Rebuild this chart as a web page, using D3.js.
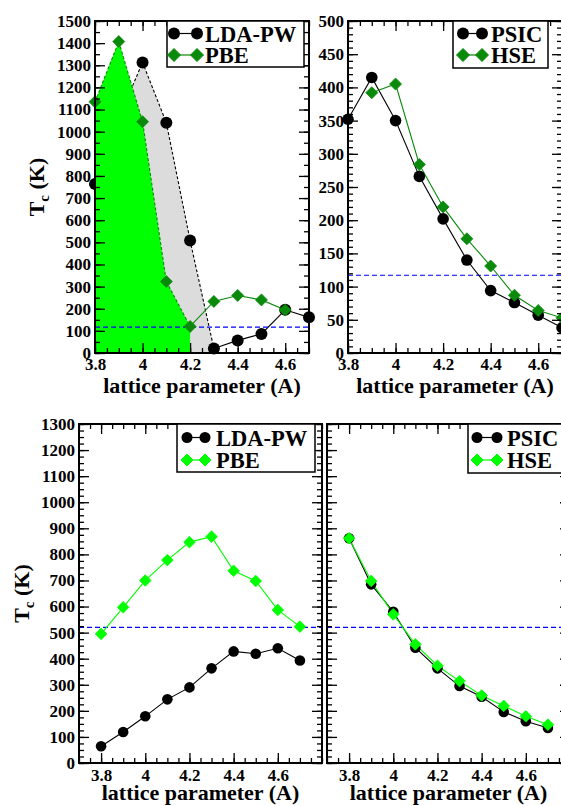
<!DOCTYPE html>
<html>
<head>
<meta charset="utf-8">
<script src="https://cdn.jsdelivr.net/npm/d3@7"></script>
<style>
  html, body { margin: 0; padding: 0; background: #fff; }
  svg { display: block; }
  text { font-family: "Liberation Serif", "Times New Roman", serif; font-weight: bold; fill: #000; }
</style>
</head>
<body>
<svg id="chart" width="561" height="806"></svg>
<script>
// Lattice parameters (Angstrom)
const lattice = [3.8, 3.9, 4.0, 4.1, 4.2, 4.3, 4.4, 4.5, 4.6, 4.7];

// Upper left: LDA-PW and PBE Curie temperatures (K)
const ldaTop = [764, 1060, 1313, 1040, 508, 20, 57, 86, 195, 161];
const pbeTop = [1135, 1407, 1045, 323, 120, 233, 260, 240, 194];
// Upper right: PSIC and HSE
const psicTop = [352, 415, 350, 266, 202, 140, 94, 76, 57, 38];
const hseLattice = [3.9, 4.0, 4.1, 4.2, 4.3, 4.4, 4.5, 4.6, 4.7];
const hseTop = [392, 405, 284, 220, 172, 131, 87, 64, 53];
// Lower left: LDA-PW and PBE
const ldaBottom = [64, 119, 179, 244, 290, 363, 428, 419, 440, 393];
const pbeBottom = [495, 597, 700, 778, 847, 868, 737, 698, 587, 523];
// Lower right: PSIC and HSE
const psicBottom = [862, 685, 580, 442, 363, 295, 254, 196, 160, 134];
const hseBottom = [862, 698, 570, 455, 373, 314, 259, 219, 179, 147];

// Reference temperature lines (K)
const refTop = 117;
const refBottom = 520;

// Tick labels
const xTickLabels = [3.8, 4.0, 4.2, 4.4, 4.6];
const yTicksTopLeft = d3.range(0, 1501, 100);
const yTicksTopRight = d3.range(0, 501, 50);
const yTicksBottom = d3.range(0, 1301, 100);

const DARK_GREEN = "#0a8a0a";
const BRIGHT_GREEN = "#00ff00";
const svg = d3.select("#chart");

const fmtX = d => (Math.abs(d - 4) < 1e-9 ? "4" : d3.format(".1f")(d));

function stepRange(a, b, s) {
  const n = Math.round((b - a) / s);
  return d3.range(n + 1).map(i => +(a + i * s).toFixed(4));
}

function diamondPath(r) {
  return `M0,${-r}L${r},0L0,${r}L${-r},0Z`;
}

let clipId = 0;
function makePanel(o) {
  const x = d3.scaleLinear().domain(o.xDomain).range([o.left, o.right]);
  const y = d3.scaleLinear().domain(o.yDomain).range([o.bottom, o.top]);
  const g = svg.append("g");
  const id = "clip" + (clipId++);
  g.append("clipPath").attr("id", id).append("rect")
    .attr("x", o.left).attr("y", o.top)
    .attr("width", o.right - o.left).attr("height", o.bottom - o.top);
  const plot = g.append("g");
  const clipped = plot.append("g").attr("clip-path", `url(#${id})`);

  // axes: minor + major ticks on all four sides, pointing inward
  const axes = g.append("g");
  const xMinor = stepRange(o.xDomain[0], o.xDomain[1], 0.05);
  const yMinor = stepRange(o.yDomain[0], o.yDomain[1], o.yMinor);
  const addAxis = (gen, tr) => {
    const a = axes.append("g").attr("transform", tr).call(gen);
    a.select(".domain").remove();
    a.selectAll("line").attr("stroke", "#000").attr("stroke-width", 1.3);
    return a;
  };
  addAxis(d3.axisBottom(x).tickValues(xMinor).tickSize(-5).tickFormat(""), `translate(0,${o.bottom})`);
  addAxis(d3.axisTop(x).tickValues(xMinor).tickSize(-5).tickFormat(""), `translate(0,${o.top})`);
  addAxis(d3.axisTop(x).tickValues(xTickLabels).tickSize(-10).tickFormat(""), `translate(0,${o.top})`);
  const xb = addAxis(d3.axisBottom(x).tickValues(xTickLabels).tickSize(-10).tickPadding(o.xPad).tickFormat(fmtX), `translate(0,${o.bottom})`);
  xb.selectAll("text").attr("font-size", 17).attr("font-family", "Liberation Serif").attr("font-weight", "bold");

  addAxis(d3.axisLeft(y).tickValues(yMinor).tickSize(-5).tickFormat(""), `translate(${o.left},0)`);
  addAxis(d3.axisRight(y).tickValues(yMinor).tickSize(-5).tickFormat(""), `translate(${o.right},0)`);
  addAxis(d3.axisRight(y).tickValues(o.yTicks).tickSize(-10).tickFormat(""), `translate(${o.right},0)`);
  const yl = addAxis(d3.axisLeft(y).tickValues(o.yTicks).tickSize(-10).tickPadding(4)
      .tickFormat(o.yLabels ? d3.format("d") : ""), `translate(${o.left},0)`);
  yl.selectAll("text").attr("font-size", 17).attr("font-family", "Liberation Serif").attr("font-weight", "bold");

  g.append("rect").attr("x", o.left).attr("y", o.top)
    .attr("width", o.right - o.left).attr("height", o.bottom - o.top)
    .attr("fill", "none").attr("stroke", "#000").attr("stroke-width", 2);

  // x axis title
  g.append("text").attr("x", (o.left + o.right) / 2).attr("y", o.xTitleY)
    .attr("text-anchor", "middle").attr("font-size", 22).text("lattice parameter (A)");
  // y axis title
  if (o.yTitleX !== undefined) {
    const t = g.append("text")
      .attr("transform", `translate(${o.yTitleX},${(o.top + o.bottom) / 2}) rotate(-90)`)
      .attr("text-anchor", "middle").attr("font-size", 22);
    t.append("tspan").text("T");
    t.append("tspan").attr("font-size", 15).attr("dy", 5).text("c");
    t.append("tspan").attr("dy", -5).text(" (K)");
  }
  return { x, y, g, plot, clipped, axes };
}

function drawLine(layer, xs, ys, sc, color, dash, width) {
  const line = d3.line().x((d, i) => sc.x(xs[i])).y(d => sc.y(d));
  layer.append("path").datum(ys).attr("d", line)
    .attr("fill", "none").attr("stroke", color).attr("stroke-width", width || 1.1)
    .attr("stroke-dasharray", dash || null);
}
function drawCircles(layer, xs, ys, sc, r) {
  layer.selectAll(null).data(ys).enter().append("circle")
    .attr("cx", (d, i) => sc.x(xs[i])).attr("cy", d => sc.y(d))
    .attr("r", r).attr("fill", "#000");
}
function drawDiamonds(layer, xs, ys, sc, r, color) {
  layer.selectAll(null).data(ys).enter().append("path")
    .attr("d", diamondPath(r))
    .attr("transform", (d, i) => `translate(${sc.x(xs[i])},${sc.y(d)})`)
    .attr("fill", color).attr("stroke", color).attr("stroke-width", 0.8);
}
function drawRef(layer, sc, v) {
  layer.append("line").attr("x1", sc.x.range()[0]).attr("x2", sc.x.range()[1])
    .attr("y1", sc.y(v)).attr("y2", sc.y(v))
    .attr("stroke", "#0000ff").attr("stroke-width", 1.1).attr("stroke-dasharray", "5,3");
}
function drawLegend(o) {
  const g = svg.append("g");
  g.append("rect").attr("x", o.x0).attr("y", o.y0).attr("width", o.x1 - o.x0).attr("height", o.y1 - o.y0)
    .attr("fill", "#fff").attr("stroke", "#000").attr("stroke-width", 1.5);
  o.items.forEach((it, k) => {
    const yy = o.rows[k];
    g.append("line").attr("x1", o.s0).attr("x2", o.s1).attr("y1", yy).attr("y2", yy)
      .attr("stroke", it.color).attr("stroke-width", 1.2);
    [o.s0, o.s1].forEach(sx => {
      if (it.shape === "circle") {
        g.append("circle").attr("cx", sx).attr("cy", yy).attr("r", o.r).attr("fill", "#000");
      } else {
        g.append("path").attr("d", diamondPath(o.r + 0.5)).attr("transform", `translate(${sx},${yy})`)
          .attr("fill", it.color).attr("stroke", it.color);
      }
    });
    g.append("text").attr("x", o.tx).attr("y", yy + 8).attr("font-size", 22.5).text(it.label);
  });
}

// ---------- upper left ----------
const p1 = makePanel({
  left: 95, right: 309, top: 21, bottom: 353,
  xDomain: [3.8, 4.7], yDomain: [0, 1500], yTicks: yTicksTopLeft, yMinor: 50, yLabels: true,
  xPad: 5, xTitleY: 393, yTitleX: 44
});
{
  const sc = p1;
  // shaded areas below the LDA-PW and PBE curves in the ferromagnetic range
  const ldaIdx = d3.range(0, 6);
  const area = d3.area().x(i => sc.x(lattice[i])).y0(sc.y(0));
  p1.clipped.append("path").datum(ldaIdx).attr("d", area.y1(i => sc.y(ldaTop[i])))
    .attr("fill", "#dcdcdc");
  drawLine(p1.clipped, ldaIdx.map(i => lattice[i]), ldaIdx.map(i => ldaTop[i]), sc, "#000", "3,2");
  drawLine(p1.clipped, lattice.slice(5), ldaTop.slice(5), sc, "#000");
  drawCircles(p1.plot, lattice, ldaTop, sc, 6);
  const pbeIdx = d3.range(0, 5);
  p1.plot.append("path").datum(pbeIdx)
    .attr("clip-path", "url(#clip0)")
    .attr("d", d3.area().x(i => sc.x(lattice[i])).y0(sc.y(0)).y1(i => sc.y(pbeTop[i])))
    .attr("fill", BRIGHT_GREEN);
  drawLine(p1.plot.append("g").attr("clip-path", "url(#clip0)"),
    pbeIdx.map(i => lattice[i]), pbeIdx.map(i => pbeTop[i]), sc, DARK_GREEN, "3,2");
  drawRef(p1.plot, sc, refTop);
  drawLine(p1.plot, lattice.slice(4, 9), pbeTop.slice(4), sc, DARK_GREEN);
  drawDiamonds(p1.plot, lattice.slice(0, 9), pbeTop, sc, 6, DARK_GREEN);
}

// ---------- upper right ----------
const p2 = makePanel({
  left: 348, right: 562, top: 21, bottom: 353,
  xDomain: [3.8, 4.7], yDomain: [0, 500], yTicks: yTicksTopRight, yMinor: 10, yLabels: true,
  xPad: 5, xTitleY: 393
});
drawRef(p2.clipped, p2, refTop);
drawLine(p2.plot, lattice, psicTop, p2, "#000");
drawLine(p2.plot, hseLattice, hseTop, p2, DARK_GREEN);
drawCircles(p2.plot, lattice, psicTop, p2, 5.8);
drawDiamonds(p2.plot, hseLattice, hseTop, p2, 6, DARK_GREEN);

// ---------- lower left ----------
const p3 = makePanel({
  left: 79, right: 322, top: 424, bottom: 763,
  xDomain: [3.7, 4.8], yDomain: [0, 1300], yTicks: yTicksBottom, yMinor: 25, yLabels: true,
  xPad: 6, xTitleY: 800, yTitleX: 29
});
drawRef(p3.clipped, p3, refBottom);
drawLine(p3.plot, lattice, ldaBottom, p3, "#000");
drawLine(p3.plot, lattice, pbeBottom, p3, BRIGHT_GREEN);
drawCircles(p3.plot, lattice, ldaBottom, p3, 5.3);
drawDiamonds(p3.plot, lattice, pbeBottom, p3, 5.8, BRIGHT_GREEN);

// ---------- lower right ----------
const p4 = makePanel({
  left: 327, right: 570, top: 424, bottom: 763,
  xDomain: [3.7, 4.8], yDomain: [0, 1300], yTicks: yTicksBottom, yMinor: 25, yLabels: false,
  xPad: 6, xTitleY: 800
});
drawRef(p4.clipped, p4, refBottom);
drawLine(p4.plot, lattice, psicBottom, p4, "#000");
drawLine(p4.plot, lattice, hseBottom, p4, BRIGHT_GREEN);
drawCircles(p4.plot, lattice, psicBottom, p4, 5.3);
drawDiamonds(p4.plot, lattice, hseBottom, p4, 5.8, BRIGHT_GREEN);

// ---------- legends ----------
drawLegend({ x0: 167, x1: 304, y0: 21, y1: 67, s0: 174, s1: 197, rows: [33.5, 55], r: 6, tx: 205,
  items: [{ label: "LDA-PW", shape: "circle", color: "#000" }, { label: "PBE", shape: "diamond", color: DARK_GREEN }] });
drawLegend({ x0: 453, x1: 548, y0: 21, y1: 68, s0: 463, s1: 482, rows: [33.5, 55], r: 6, tx: 491,
  items: [{ label: "PSIC", shape: "circle", color: "#000" }, { label: "HSE", shape: "diamond", color: DARK_GREEN }] });
drawLegend({ x0: 177, x1: 315, y0: 424, y1: 472, s0: 187, s1: 205, rows: [437.5, 460], r: 5.5, tx: 216,
  items: [{ label: "LDA-PW", shape: "circle", color: "#000" }, { label: "PBE", shape: "diamond", color: BRIGHT_GREEN }] });
drawLegend({ x0: 468, x1: 575, y0: 424, y1: 473, s0: 477, s1: 497, rows: [437.5, 460], r: 5.5, tx: 507,
  items: [{ label: "PSIC", shape: "circle", color: "#000" }, { label: "HSE", shape: "diamond", color: BRIGHT_GREEN }] });
</script>
</body>
</html>
